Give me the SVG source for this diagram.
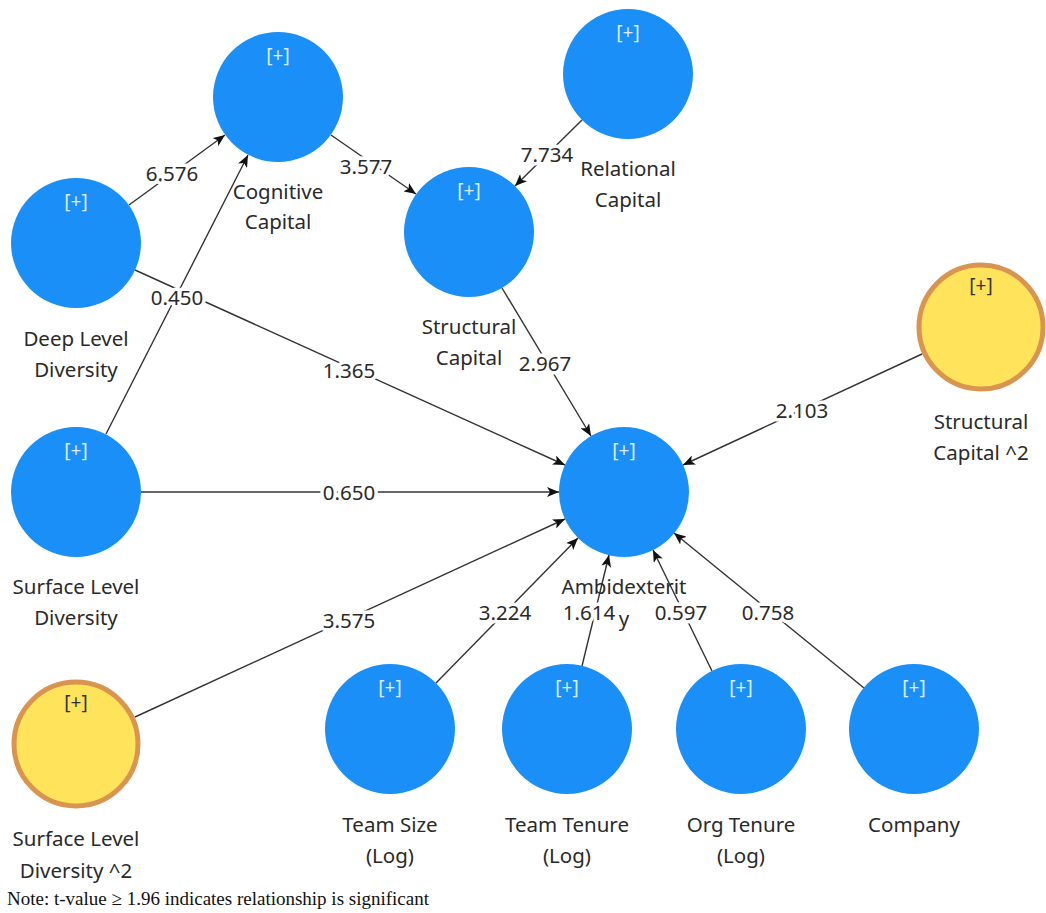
<svg xmlns="http://www.w3.org/2000/svg" width="1046" height="913" viewBox="0 0 1046 913">
  <style>
    .lv { fill: #1b8ff8; }
    .sq { fill: #ffe35a; stroke: #d99450; stroke-width: 5; }
    .exp { font-family: "Noto Sans", "Open Sans", sans-serif; font-size: 19px; text-anchor: middle; }
    .exp-b { fill: #dcecff; }
    .exp-y { fill: #333333; }
    .name { font-family: "Noto Sans", "Open Sans", sans-serif; font-size: 20.5px; fill: #2a2a2a; text-anchor: middle; }
    .edge { stroke: #333333; stroke-width: 1.4; fill: none; marker-end: url(#arrow); }
    .val { font-family: "Noto Sans", "Open Sans", sans-serif; font-size: 20.5px; fill: #2a2a2a; text-anchor: middle; dominant-baseline: central; stroke: #ffffff; stroke-width: 7; paint-order: stroke; stroke-linejoin: round; }
    .note { font-family: "Liberation Serif", "Times New Roman", serif; font-size: 19px; fill: #111111; }
  </style>
  <defs>
    <marker id="arrow" viewBox="0 0 12 10" refX="12" refY="5" markerWidth="12" markerHeight="10" markerUnits="userSpaceOnUse" orient="auto">
      <path d="M0,0 L12,5 L0,10 L3,5 Z" fill="#111111"/>
    </marker>
  </defs>

  <rect width="1046" height="913" fill="#ffffff"/>

  <!-- paths between constructs -->
  <g id="connectors">
    <line class="edge" x1="129" y1="205" x2="225" y2="135"/>
    <line class="edge" x1="106" y1="434" x2="248" y2="155"/>
    <line class="edge" x1="135" y1="270" x2="565" y2="465"/>
    <line class="edge" x1="331" y1="135" x2="416" y2="194"/>
    <line class="edge" x1="582" y1="120" x2="515" y2="186"/>
    <line class="edge" x1="502" y1="288" x2="591" y2="436"/>
    <line class="edge" x1="922" y1="354" x2="683" y2="465"/>
    <line class="edge" x1="141" y1="492" x2="559" y2="492"/>
    <line class="edge" x1="135" y1="717" x2="565" y2="519"/>
    <line class="edge" x1="436" y1="683" x2="578" y2="538"/>
    <line class="edge" x1="582" y1="666" x2="609" y2="555"/>
    <line class="edge" x1="712" y1="671" x2="653" y2="550"/>
    <line class="edge" x1="864" y1="688" x2="674" y2="533"/>

    <text class="val" x="172" y="173">6.576</text>
    <text class="val" x="177" y="297">0.450</text>
    <text class="val" x="349" y="370">1.365</text>
    <text class="val" x="366" y="166">3.577</text>
    <text class="val" x="547" y="154">7.734</text>
    <text class="val" x="545" y="363">2.967</text>
    <text class="val" x="802" y="410">2.103</text>
    <text class="val" x="349" y="492">0.650</text>
    <text class="val" x="349" y="620">3.575</text>
    <text class="val" x="505" y="612">3.224</text>
    <text class="val" x="589" y="612">1.614</text>
    <text class="val" x="681" y="612">0.597</text>
    <text class="val" x="768" y="612">0.758</text>
  </g>

  <g id="cognitive-capital">
    <circle class="lv" cx="278" cy="97" r="65"/>
    <text class="exp exp-b" x="278" y="62">[+]</text>
    <text class="name" x="278" y="199">Cognitive</text>
    <text class="name" x="278" y="229">Capital</text>
  </g>

  <g id="relational-capital">
    <circle class="lv" cx="628" cy="74" r="65"/>
    <text class="exp exp-b" x="628" y="39">[+]</text>
    <text class="name" x="628" y="176">Relational</text>
    <text class="name" x="628" y="207">Capital</text>
  </g>

  <g id="deep-level-diversity">
    <circle class="lv" cx="76" cy="243" r="65"/>
    <text class="exp exp-b" x="76" y="208">[+]</text>
    <text class="name" x="76" y="346">Deep Level</text>
    <text class="name" x="76" y="377">Diversity</text>
  </g>

  <g id="structural-capital">
    <circle class="lv" cx="469" cy="232" r="65"/>
    <text class="exp exp-b" x="469" y="197">[+]</text>
    <text class="name" x="469" y="334">Structural</text>
    <text class="name" x="469" y="365">Capital</text>
  </g>

  <g id="structural-capital-sq">
    <circle class="sq" cx="981" cy="327" r="62"/>
    <text class="exp exp-y" x="981" y="292">[+]</text>
    <text class="name" x="981" y="429">Structural</text>
    <text class="name" x="981" y="460">Capital ^2</text>
  </g>

  <g id="ambidexterity">
    <circle class="lv" cx="624" cy="492" r="65"/>
    <text class="exp exp-b" x="624" y="457">[+]</text>
    <text class="name" x="624" y="594">Ambidexterit</text>
    <text class="name" x="624" y="626">y</text>
  </g>

  <g id="surface-level-diversity">
    <circle class="lv" cx="76" cy="492" r="65"/>
    <text class="exp exp-b" x="76" y="457">[+]</text>
    <text class="name" x="76" y="594">Surface Level</text>
    <text class="name" x="76" y="625">Diversity</text>
  </g>

  <g id="surface-level-diversity-sq">
    <circle class="sq" cx="76" cy="744" r="62"/>
    <text class="exp exp-y" x="76" y="709">[+]</text>
    <text class="name" x="76" y="846">Surface Level</text>
    <text class="name" x="76" y="878">Diversity ^2</text>
  </g>

  <g id="team-size">
    <circle class="lv" cx="390" cy="729" r="65"/>
    <text class="exp exp-b" x="390" y="694">[+]</text>
    <text class="name" x="390" y="832">Team Size</text>
    <text class="name" x="390" y="863">(Log)</text>
  </g>

  <g id="team-tenure">
    <circle class="lv" cx="567" cy="729" r="65"/>
    <text class="exp exp-b" x="567" y="694">[+]</text>
    <text class="name" x="567" y="832">Team Tenure</text>
    <text class="name" x="567" y="863">(Log)</text>
  </g>

  <g id="org-tenure">
    <circle class="lv" cx="741" cy="729" r="65"/>
    <text class="exp exp-b" x="741" y="694">[+]</text>
    <text class="name" x="741" y="832">Org Tenure</text>
    <text class="name" x="741" y="863">(Log)</text>
  </g>

  <g id="company">
    <circle class="lv" cx="914" cy="729" r="65"/>
    <text class="exp exp-b" x="914" y="694">[+]</text>
    <text class="name" x="914" y="832">Company</text>
  </g>

  <text class="note" x="7" y="905">Note: t-value ≥ 1.96 indicates relationship is significant</text>
</svg>
